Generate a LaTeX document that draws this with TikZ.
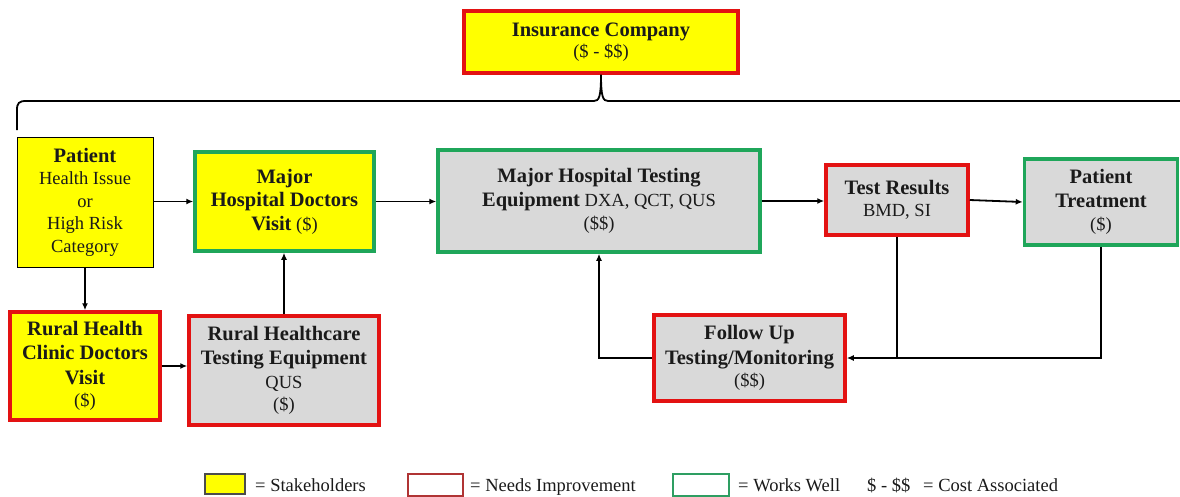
\documentclass[tikz,border=0pt]{standalone}
\usepackage{fontspec}
\setmainfont{Liberation Serif}
\usetikzlibrary{arrows.meta,calc}
\definecolor{yel}{HTML}{FFFF00}
\definecolor{rd}{HTML}{E31212}
\definecolor{gr}{HTML}{1FA65A}
\definecolor{gy}{HTML}{D9D9D9}
\definecolor{lrd}{HTML}{B03434}
\definecolor{lgr}{HTML}{2E9E62}
\definecolor{txt}{HTML}{1A1A1A}
\newcommand{\bt}[1]{{\fontsize{20.5}{24}\selectfont\bfseries #1}}
\begin{document}
\begin{tikzpicture}[x=1pt,y=-1pt,
  box/.style={draw, line width=3.5pt, align=center, inner sep=0pt, text=txt,
              font=\fontsize{18.5}{23.5}\selectfont},
  redbox/.style={box, draw=rd},
  greenbox/.style={box, draw=gr},
  arr/.style={-{Latex[length=7pt,width=6pt]}, line width=1.8pt},
  ln/.style={line width=1.8pt},
  legbox/.style={line width=1.2pt, inner sep=0pt},
  legtxt/.style={anchor=base west, inner sep=0pt, text=txt, font=\fontsize{18.5}{22}\selectfont}]
\useasboundingbox (0,0) rectangle (1180,496);

% nodes
\node[redbox, fill=yel, minimum width=274, minimum height=62] (ins) at (601,42)
  {\bt{Insurance Company}\\[-2pt](\$ - \$\$)};
\node[box, draw=black, line width=0.8pt, fill=yel, minimum width=136, minimum height=130] (pat) at (85,202)
  {\bt{Patient}\\[-1pt]Health Issue\\[-1pt]or\\[-1pt]High Risk\\[-1pt]Category};
\node[greenbox, fill=yel, minimum width=179, minimum height=99] (mhdv) at (284.5,201.5)
  {\bt{Major}\\\bt{Hospital Doctors}\\\bt{Visit} (\$)};
\node[greenbox, fill=gy, minimum width=322, minimum height=102] (mhte) at (599,201)
  {\bt{Major Hospital Testing}\\\bt{Equipment} DXA, QCT, QUS\\(\$\$)};
\node[redbox, fill=gy, minimum width=142, minimum height=70] (tr) at (897,200)
  {\bt{Test Results}\\[-2pt]BMD, SI};
\node[greenbox, fill=gy, minimum width=153, minimum height=86] (pt) at (1101,202)
  {\bt{Patient}\\\bt{Treatment}\\(\$)};
\node[redbox, fill=yel, minimum width=150, minimum height=108] (rhc) at (85,366)
  {\bt{Rural Health}\\[1pt]\bt{Clinic Doctors}\\[1pt]\bt{Visit}\\[-1pt](\$)};
\node[redbox, fill=gy, minimum width=190, minimum height=109] (rhte) at (284,370.5)
  {\bt{Rural Healthcare}\\[1pt]\bt{Testing Equipment}\\QUS\\[-1pt](\$)};
\node[redbox, fill=gy, minimum width=191, minimum height=86] (fu) at (749.5,358)
  {\bt{Follow Up}\\[1pt]\bt{Testing/Monitoring}\\[-1pt](\$\$)};

% brace
\coordinate (bl) at (17,130);
\coordinate (br) at (1181,101);
\draw[ln] (bl) -- (17,110) .. controls (17,103) and (19,101) .. (26,101) -- (594,101)
  .. controls (599,101) and (601,97) .. (ins.south)
  .. controls (601,97) and (603,101) .. (608,101) -- (br);

% connectors
\draw[arr] (pat.east |- mhdv) -- (mhdv.west);
\draw[arr] (mhdv.east) -- (mhdv.east -| mhte.west);
\draw[arr] (mhte.east) -- (mhte.east -| tr.west);
\draw[arr] (tr.east) -- (pt.west);
\draw[arr] (pat.south) -- (rhc.north);
\draw[arr] (rhc.east) -- (rhc.east -| rhte.west);
\draw[arr] (rhte.north) -- (rhte.north |- mhdv.south);
\draw[arr] (tr.south) -- (tr.south |- fu.east) -- (fu.east);
\draw[ln] (pt.south) -- (pt.south |- fu.east) -- (tr.south |- fu.east);
\draw[arr] (fu.west) -- (fu.west -| mhte.south) -- (mhte.south);

% legend
\node[legbox, draw=black!70, fill=yel, minimum width=40, minimum height=20] (l1) at (225,484) {};
\node[legtxt] (t1) at (255,491) {= Stakeholders};
\node[legbox, draw=lrd, fill=white, minimum width=55, minimum height=22] (l2) at (435.5,485) {};
\node[legtxt] (t2) at (470,491) {= Needs Improvement};
\node[legbox, draw=lgr, fill=white, minimum width=56, minimum height=22] (l3) at (701,485) {};
\node[legtxt] (t3) at (738,491) {= Works Well};
\node[legtxt] (t4) at (867,491) {\$ - \$\$};
\node[legtxt] (t5) at (923,491) {= Cost Associated};
\end{tikzpicture}
\end{document}
